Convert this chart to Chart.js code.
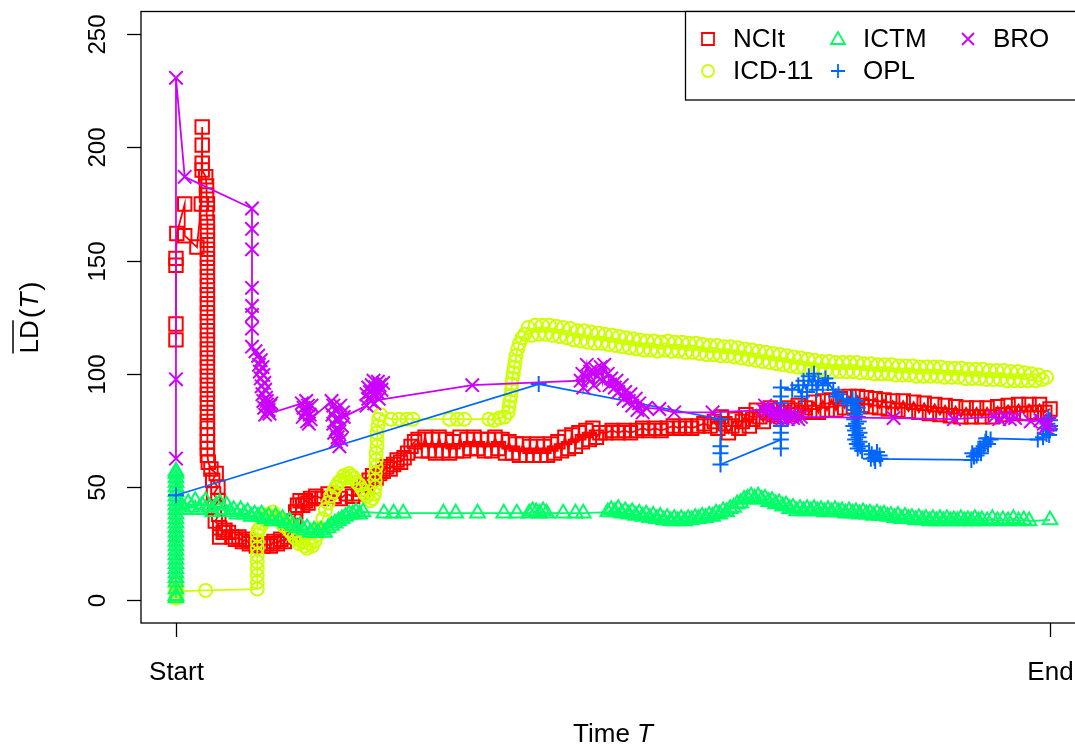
<!DOCTYPE html>
<html lang="en">
<head>
<meta charset="UTF-8">
<title>LD(T) over time</title>
<style>
  html, body { margin: 0; padding: 0; background: #fff; overflow: hidden; }
  #wrap { width: 1100px; height: 744px; }
</style>
</head>
<body>
<div id="wrap"><canvas id="ldChart" width="1100" height="744"></canvas></div>
<script src="https://cdn.jsdelivr.net/npm/chart.js"></script>
<script>
// series, in the order they are plotted
const seriesNames = ['NCIt', 'ICD-11', 'ICTM', 'OPL', 'BRO'];
const seriesColors = ['#FF0000', '#CCFF00', '#00FF66', '#0066FF', '#CC00FF'];
const xTickValues = [0, 100];
const xTickLabels = ['Start', 'End'];
const yTickValues = [0, 50, 100, 150, 200, 250];

// [time, LD] pairs (time: Start = 0, End = 100)
const ncitPoints = [
  [0,115],[0,122],[0,148],[0,151],[0.1,162],[1.0,175],[1.0,161],[2.4,156],[2.9,175],
  [3.0,209],[3.0,201],[3.0,193],[3.0,190],[3.4,187],[3.5,183],[3.5,179],[3.6,175],[3.5,171],[3.6,167],
  [3.6,163],[3.6,159],[3.6,155],[3.6,151],[3.6,147],[3.6,143],[3.6,139],[3.6,135],[3.6,131],[3.6,127],
  [3.6,123],[3.6,119],[3.6,115],[3.6,111],[3.6,107],[3.6,103],[3.6,99],[3.6,95],[3.6,91],[3.6,87],
  [3.6,83],[3.6,79],[3.6,76],[3.6,73],[3.6,70],[3.6,67],[3.6,64],[3.7,61],[4.0,58],[4.6,56],[4.2,53],
  [4.8,50],[4.3,47],[4.8,44],[4.4,41],[4.9,38],[4.5,35],[5.0,32],[5.4,30],[5.0,28],
  [5.6,31],[6.0,30],[6.4,28],[6.8,27],[7.2,28],[7.6,26],[8.0,27],[8.4,25],[8.8,26],[9.2,24],[9.6,25],
  [10.0,24],[10.4,25],[10.8,24],[11.2,26],[11.6,25],[12.0,27],[12.4,26],[12.8,28],[13.2,30],
  [13.5,35],[13.7,39],[13.9,42],[14.2,44],[14.5,42],[14.8,44],[15.1,43],[15.4,45],
  [16.0,46],[16.7,45],[17.4,47],[18.1,46],[18.8,45],[19.5,47],[20.2,46],[20.9,47],
  [21.3,49],[21.7,51],[22.1,53],[22.5,55],[22.9,54],[23.3,56],[23.7,57],[24.1,59],[24.5,58],[24.9,60],
  [25.3,62],[25.7,61],[26.1,63],[26.5,65],[26.9,68],[27.3,70],
  [27.7,71],[28.1,66],[28.5,72],[28.9,66],[29.3,71],[29.7,65],[30.1,72],[30.5,66],[30.9,71],[31.3,65],
  [31.7,70],[32.1,66],[32.5,72],[32.9,66],[33.3,71],[33.7,67],[34.1,72],[34.5,67],[34.9,71],[35.3,66],
  [35.7,71],[36.1,66],[36.5,72],[36.9,67],[37.3,71],[37.7,65],[38.1,70],[38.5,65],[38.9,69],[39.3,64],
  [39.7,69],[40.1,64],[40.5,68],[40.9,64],[41.3,69],[41.7,64],[42.1,68],[42.5,64],[42.9,69],[43.3,65],
  [43.7,70],[44.1,66],[44.5,72],[44.9,67],[45.3,73],[45.7,68],[46.1,74],[46.5,70],[46.9,75],[47.3,71],
  [47.7,76],[48.1,72],[48.5,74],
  [49.2,74],[49.9,75],[50.6,74],[51.3,75],[52.0,74],[52.7,75],[53.4,76],[54.1,75],[54.8,76],[55.5,75],
  [56.2,76],[56.9,77],[57.6,76],[58.3,77],[59.0,76],[59.7,77],[60.4,78],[61.1,77],
  [61.6,79],[62.0,76],[62.4,81],[62.8,78],[63.2,74],[63.6,77],[64.0,80],[64.4,76],[64.8,79],[65.2,82],
  [65.6,77],[66.0,80],[66.4,84],[66.8,81],[67.2,79],[67.6,83],[68.0,85],[68.4,82],[68.8,84],[69.2,81],
  [69.6,83],[70.0,85],[70.4,82],[70.8,84],[71.2,86],[71.6,83],[72.0,85],
  [72.5,83],[73.0,87.5],[73.5,83],[74.0,88],[74.5,84],[75.0,88.5],[75.5,84],[76.0,89],[76.5,85],[77.0,90],
  [77.5,85.5],[78.0,90],[78.5,86],[79.0,89.5],[79.5,85.5],[80.0,89],[80.5,85],[81.0,88.5],[81.5,84.5],
  [82.0,88],[82.6,84],[83.2,88],[83.8,83.5],[84.4,87.5],[85.0,83],[85.6,87],[86.2,82.5],[86.8,86.5],
  [87.4,82],[88.0,86],[88.6,81.5],[89.2,85.5],[89.8,81],[90.4,85],[91.0,81],[91.6,85],[92.2,81],
  [92.8,85],[93.4,81],[94.0,85.5],[94.6,82],[95.2,86],[95.8,82.5],[96.4,86.5],[97.0,82.5],[97.6,86.5],
  [98.2,83],[98.8,86.5],[99.4,83],[100,84.5]
];

const icd11Points = [
  [0,1],[0,3],[0,5],[0,7],[0.1,2],[0.1,4],[3.4,4.4],
  [9.3,5],[9.3,8],[9.3,11],[9.3,14],[9.3,17],[9.3,20],[9.3,23],[9.3,26],[9.3,29],[9.4,31],
  [9.6,32],[9.9,34],[10.2,36],[10.5,38],[10.8,37],[11.1,39],[11.4,37],[11.7,36],[12.0,35],[12.3,33],
  [12.6,34],[12.9,31],[13.2,30],[13.5,28],[13.8,27],[14.1,25],[14.4,26],[14.7,24],[15.0,23],[15.3,25],
  [15.6,24],[15.9,26],[16.2,29],[16.5,32],[16.8,36],[17.1,40],[17.4,43],[17.7,46],[18.0,48],[18.3,50],
  [18.6,52],[18.9,53],[19.2,55],[19.5,54],[19.8,56],[20.1,55],[20.4,54],[20.7,52],[21.0,51],[21.3,49],
  [21.6,47],[21.9,46],[22.2,44],[22.5,45],[22.7,47],[22.8,50],[22.8,53],[22.8,56],[22.9,59],[22.9,62],
  [22.9,65],[23.0,68],[23.0,71],[23.0,74],[23.1,77],[23.2,80],[23.4,82],
  [24.6,80],[25.5,80],[26.4,80],[27.1,80],[31.3,80],[32.2,80],[33.0,80],[35.8,80],[36.4,79.5],[37.0,80.5],
  [37.6,81],[38.0,83],[38.1,85.5],[38.2,88],[38.3,90.5],[38.4,93],[38.4,95.5],[38.5,98],[38.6,100.5],
  [38.7,103],[38.8,105.5],[38.9,108],[39.1,111],[39.3,113.5],[39.6,116],[39.9,117.5],
  [40.3,120.5],[40.7,117],[41.1,121.5],[41.5,117.5],[41.9,121.5],[42.3,117.5],[42.7,121.5],[43.1,117],
  [43.5,121],[43.9,116.5],[44.3,120.5],[44.7,116],[45.1,120],[45.5,115],[45.9,119],[46.3,114.5],
  [46.7,119],[47.1,114],[47.5,118.5],[47.9,113.5],[48.3,118],[48.7,113.5],[49.1,117.5],[49.5,113],
  [49.9,117],[50.3,112.5],[50.7,116.5],[51.1,112],[51.5,116],[51.9,111.5],[52.3,115.5],[52.7,111],
  [53.1,115],[53.5,110.5],[53.9,114.5],[54.3,110.5],[54.7,114.5],[55.1,110],[55.5,114],[55.9,110.5],
  [56.3,114.5],[56.7,110],[57.1,114],[57.5,110],[57.9,114],[58.3,109.5],[58.7,113.5],[59.1,109.5],
  [59.5,113.5],[59.9,109],[60.3,113],[60.7,108.5],[61.1,112.5],[61.5,108.5],[61.9,112.5],[62.3,108],
  [62.7,112],[63.1,108],[63.5,112],[63.9,107.5],[64.3,111.5],[64.7,107],[65.1,111],[65.5,106.5],
  [65.9,110.5],[66.3,106],[66.7,110],[67.1,105.5],[67.5,109.5],[67.9,105],[68.3,109],[68.7,104.5],
  [69.1,108.5],[69.5,104],[69.9,108],[70.3,103.5],[70.7,107.5],[71.1,103],[71.5,107],[71.9,102.5],
  [72.3,106.5],[72.7,102],[73.1,106],[73.5,101.5],[73.9,105.5],[74.3,101.5],[74.7,105.5],[75.1,101],
  [75.5,105],[75.9,101],[76.3,105],[76.7,101],[77.1,105],[77.5,101],[77.9,105],[78.3,100.5],[78.7,104.5],
  [79.1,100.5],[79.5,104.5],[79.9,100],[80.3,104],[80.7,100],[81.1,104],[81.5,100],[81.9,104],
  [82.3,99.5],[82.7,103.5],[83.1,99.5],[83.5,103.5],[83.9,99.5],[84.3,103.5],[84.7,99],[85.1,103],
  [85.5,99],[85.9,103],[86.3,99],[86.7,103],[87.1,99],[87.5,103],[87.9,98.5],[88.3,102.5],[88.7,98.5],
  [89.1,102.5],[89.5,98.5],[89.9,102.5],[90.3,98],[90.7,102],[91.1,98],[91.5,102],[91.9,98],[92.3,102],
  [92.7,97.5],[93.1,101.5],[93.5,97.5],[93.9,101.5],[94.3,97.5],[94.7,101.5],[95.1,97],[95.5,101],
  [95.9,97],[96.3,101],[96.7,97],[97.1,100.5],[97.5,97],[97.9,100],[98.3,97],[98.7,99.5],[99.1,97.5],
  [99.6,98.5]
];

const ictmPoints = [
  [0,1],[0,2],[0,5],[0,8],[0,10],[0,12],[0,14],[0,16],[0,18],[0,20],[0,22],[0,24],[0,26],[0,28],
  [0,30],[0,32],[0,34],[0,36],[0,38],[0,40],[0,42],[0,44],[0,46],[0,48],[0,50],[0,52],[0,54],[0,56],[0,57],
  [0.6,42],[1.0,40],[1.4,43],[1.8,41],[2.2,44],[2.6,40],[3.0,42],[3.4,44],[3.8,41],[4.2,39],[4.6,42],
  [5.0,43],[5.4,40],[5.8,42],[6.2,39],[6.6,40],[7.0,38],[7.4,40],[7.8,38],[8.2,39],[8.6,37],[9.0,38],
  [9.4,37],[9.8,38],[10.2,36],[10.6,37],[11.0,35],[11.4,37],[11.8,35],[12.2,36],[12.6,34],[13.0,35],
  [13.4,33],[13.8,32],[14.2,33],[14.6,31],[15.0,32],[15.4,30],[15.8,31],[16.2,30],[16.6,31],[17.0,30],
  [17.4,32],[17.8,33],[18.2,34],[18.6,35],[19.0,36],[19.4,37],[19.8,38],[20.2,38],[20.6,39],[21.0,38],
  [21.4,39],
  [23.8,38.5],[24.9,38.5],[26.0,38.5],[30.6,38.5],[32.0,38.5],[34.5,38.5],[37.5,38.5],[39.0,38.5],
  [40.4,38.5],[40.8,39.5],[41.2,39],[41.6,38.5],[42.0,39.5],[42.4,38.5],[44.3,38.5],[45.7,38.5],[46.6,38.5],
  [49.4,39],[49.8,40],[50.2,39],[50.6,40.5],[51.0,38.5],[51.4,39.5],[51.8,38],[52.2,39],[52.6,37.5],
  [53.0,38.5],[53.4,37],[53.8,38],[54.2,36.5],[54.6,37.5],[55.0,36],[55.4,37],[55.8,35.5],[56.2,36.5],
  [56.6,35],[57.0,36],[57.4,35],[57.8,36],[58.2,35],[58.6,36],[59.0,35.5],[59.4,36.5],[59.8,36],
  [60.2,37],[60.6,36.5],[61.0,37.5],[61.4,37],[61.8,38.5],[62.2,38],[62.6,39.5],[63.0,39],[63.4,40.5],
  [63.8,41],[64.2,42.5],[64.6,43],[65.0,44.5],[65.4,45],[65.8,46],[66.2,45],[66.6,46],[67.0,44.5],
  [67.4,45],[67.8,43.5],[68.2,44],[68.6,42.5],[69.0,43],[69.4,41.5],[69.8,42],[70.2,40.5],[70.6,41],
  [71.0,39.5],[71.4,40.5],[71.8,39.5],[72.2,40.5],[72.6,39.5],[73.0,40.5],[73.4,39.5],[73.8,40],
  [74.2,39],[74.6,40],[75.0,39],[75.4,40],[75.8,39],[76.2,39.5],[76.6,38.5],[77.0,39.5],[77.4,38.5],
  [77.8,39],[78.2,38],[78.6,39],[79.0,38],[79.4,38.5],[79.8,37.5],[80.2,38.5],[80.6,37.5],[81.0,38],
  [81.4,37],[81.8,37.5],[82.2,36.5],[82.6,37.5],[83.0,36],[83.4,37],[83.8,36],[84.2,36.5],[84.6,35.5],
  [85.0,36.5],[85.4,35.5],[85.8,36],[86.2,35],[86.6,36],[87.0,35],[87.4,36],[87.8,35],[88.2,36],
  [88.6,35],[89.0,35.5],[89.4,35],[89.8,36],[90.2,35],[90.6,35.5],[91.0,35],[91.4,36],[91.8,35],
  [92.2,35.5],[92.8,35],[93.4,36],[94.0,35],[94.6,35.5],[95.2,35],[95.8,36],[96.4,35],[97.0,35.5],
  [97.6,35],[100,35.5]
];

const oplPoints = [
  [0,46.4],[41.5,95.5],[62.3,80],[62.3,68],[62.3,65],[62.3,60],[69.2,71],[69.2,67],[69.2,74],[69.2,77],
  [69.2,80],[69.2,83],[69.2,87],[69.2,90],[69.2,94],[70.5,93],[71.2,95],[71.6,90],[71.8,97],[72.2,92],
  [72.4,99],[72.8,95],[73.0,100],[73.3,93],[73.5,97],[74.0,95],[74.3,98],[74.6,96],[75.2,93],[75.5,90],
  [75.8,91],[76.3,89],[76.8,87],[77.4,89],[77.8,88],[77.5,86],[78.0,85],[77.6,84],[78.1,83],[77.7,82],
  [78.0,81],[77.6,80],[78.1,79],[77.8,78],[77.5,77],[78.0,76],[77.7,75],[78.2,74],[77.8,73],[78.1,72],
  [77.7,71],[78.2,70],[77.9,69],[78.3,68],[78.0,67],[78.5,66],
  [79.3,66],[79.6,64.5],[79.9,63],[80.2,65.5],[80.5,64],[80.0,61.5],[80.6,62.5],[79.5,62.5],
  [91.0,62],[91.3,63.5],[91.1,65],[91.6,64],[91.8,66],[92.1,65],[92.0,67],[92.4,68],[92.6,70],[92.9,69],
  [93.2,71],[92.7,71.5],
  [98.6,71],[99.2,72],[99.6,73.5],[99.9,75],[99.5,76],[100,77],[99.7,78],[100,79.5],[99.8,80.5],
  [100,75.5],[99.9,73]
];

const broPoints = [
  [0,62.6],[0,97.6],[0,230.7],[1.0,187],[8.7,173],[8.7,164],[8.7,155],[8.7,138],[8.7,130],[8.7,126],
  [8.7,120],[8.7,112],[9.1,110],[9.4,108],[9.7,106],[9.5,104],[9.9,103],[9.6,101],[10.0,99.5],[9.7,98],
  [10.1,96],[9.8,94.5],[10.2,93],[9.9,91],[10.3,89.5],[10.0,88],[10.4,86.5],[10.1,85],[10.5,83.5],
  [10.2,82],[10.6,84],[10.8,86],[10.4,88],[10.9,87],[10.7,82.5],
  [14.4,87],[14.6,85],[14.8,83],[14.5,81],[15.0,79],[14.9,84],[15.1,86],[15.3,82],[15.5,86],[14.9,88],
  [15.2,78],[15.4,80],
  [17.8,88],[18.0,86],[18.2,84],[17.9,82],[18.3,80],[18.0,78],[18.4,76],[18.1,74],[18.5,72],[18.3,70],
  [18.7,68],[18.9,71],[18.6,74],[19.0,77],[18.7,80],[19.1,83],[18.8,86],[19.2,81],
  [21.8,86],[22.0,89],[21.8,91],[22.2,92],[22.0,94],[22.4,95],[22.6,97],[22.8,94],[22.5,91],[23.0,92],
  [23.2,89],[22.7,87],[23.3,95],[23.5,93],[23.7,96],[23.1,96.5],[22.3,88],
  [33.9,95],
  [46.3,97],[46.5,100],[46.6,94],[47.0,104],[47.2,98],[47.4,101],[47.8,95],[48.0,102],[48.2,99],
  [48.6,103],[48.8,97],[49.0,104],[49.4,100],[49.6,95],[49.8,98],[50.2,94],[50.4,97],[50.6,92],
  [51.0,95],[51.2,89],[51.4,92],[51.8,88],[52.0,91],[52.2,86],[52.6,89],[52.8,84],[53.0,87],[53.4,83],
  [53.8,85],[55.3,84.5],[57.0,83],[61.4,83],
  [67.2,84],[67.4,86],[67.6,83],[67.9,85],[68.2,82],[68.5,84],[68.8,81],[69.1,83],[69.4,80.5],[69.7,82.5],
  [70.0,80],[70.3,82],[70.6,80.5],[70.9,81.5],[71.2,80],[71.5,81],
  [82.1,80.5],[89.0,80],[93.6,81],[94.2,80],[94.8,81],[95.4,80],[96.0,80.5],[97.8,79],[98.9,79.5],
  [99.3,78],[99.7,77.5],[100,78.5],[99.5,76.5]
];

const seriesPoints = [ncitPoints, icd11Points, ictmPoints, oplPoints, broPoints];
const seriesStyles = ['rect', 'circle', 'triangle', 'cross', 'crossRot'];
const seriesRadius = [9.5, 6.5, 8.5, 8, 9.5];

const FONT = '"Liberation Sans", Arial, sans-serif';
const FS = 26;
const FS_Y = 24;

function drawMarker(ctx, style, x, y, color) {
  ctx.save();
  ctx.strokeStyle = color;
  ctx.lineWidth = 1.8;
  ctx.beginPath();
  if (style === 'rect') {
    ctx.rect(x - 6, y - 6, 12, 12);
  } else if (style === 'circle') {
    ctx.arc(x, y, 6, 0, Math.PI * 2);
  } else if (style === 'triangle') {
    ctx.moveTo(x, y - 7); ctx.lineTo(x + 7, y + 5); ctx.lineTo(x - 7, y + 5); ctx.closePath();
  } else if (style === 'cross') {
    ctx.moveTo(x - 7, y); ctx.lineTo(x + 7, y); ctx.moveTo(x, y - 7); ctx.lineTo(x, y + 7);
  } else {
    ctx.moveTo(x - 6, y - 6); ctx.lineTo(x + 6, y + 6); ctx.moveTo(x + 6, y - 6); ctx.lineTo(x - 6, y + 6);
  }
  ctx.stroke();
  ctx.restore();
}

// R-style box, ticks, labels and legend
const baseGraphics = {
  id: 'baseGraphics',
  afterDatasetsDraw(chart) {
    const { ctx, chartArea: a, scales: { x, y } } = chart;
    ctx.save();
    ctx.strokeStyle = '#000';
    ctx.fillStyle = '#000';
    ctx.lineWidth = 1.3;
    ctx.strokeRect(a.left, a.top, a.right - a.left, a.bottom - a.top);

    ctx.textAlign = 'center';
    ctx.textBaseline = 'alphabetic';

    ctx.font = FS_Y + 'px ' + FONT;
    yTickValues.forEach(v => {
      const py = Math.round(y.getPixelForValue(v)) + 0.5;
      ctx.beginPath(); ctx.moveTo(a.left - 14, py); ctx.lineTo(a.left, py); ctx.stroke();
      ctx.save();
      ctx.translate(105, py);
      ctx.rotate(-Math.PI / 2);
      ctx.fillText(String(v), 0, 0);
      ctx.restore();
    });

    ctx.font = FS + 'px ' + FONT;
    xTickValues.forEach((v, i) => {
      const px = Math.round(x.getPixelForValue(v)) + 0.5;
      ctx.beginPath(); ctx.moveTo(px, a.bottom); ctx.lineTo(px, a.bottom + 14); ctx.stroke();
      ctx.fillText(xTickLabels[i], px, 680);
    });

    // x title: Time T
    const cx = (a.left + a.right) / 2;
    ctx.font = FS + 'px ' + FONT;
    const w1 = ctx.measureText('Time ').width;
    ctx.font = 'italic ' + FS + 'px ' + FONT;
    const w2 = ctx.measureText('T').width;
    const sx = cx - (w1 + w2) / 2;
    ctx.textAlign = 'left';
    ctx.font = FS + 'px ' + FONT;
    ctx.fillText('Time ', sx, 742);
    ctx.font = 'italic ' + FS + 'px ' + FONT;
    ctx.fillText('T', sx + w1, 742);

    // y title: overline LD (T)
    ctx.save();
    ctx.translate(38, (a.top + a.bottom) / 2);
    ctx.rotate(-Math.PI / 2);
    ctx.font = FS + 'px ' + FONT;
    const wLD = ctx.measureText('LD').width;
    const wO = ctx.measureText('(').width;
    const wC = ctx.measureText(')').width;
    ctx.font = 'italic ' + FS + 'px ' + FONT;
    const wT = ctx.measureText('T').width;
    const tot = wLD + wO + wT + wC + 6;
    let tx = -tot / 2;
    ctx.font = FS + 'px ' + FONT;
    ctx.fillText('LD', tx, 0);
    ctx.lineWidth = 1.5;
    ctx.beginPath(); ctx.moveTo(tx, -25); ctx.lineTo(tx + wLD, -25); ctx.stroke();
    tx += wLD + 2;
    ctx.font = (FS + 2) + 'px ' + FONT;
    ctx.fillText('(', tx, 1);
    tx += wO + 1;
    ctx.font = 'italic ' + FS + 'px ' + FONT;
    ctx.fillText('T', tx, 0);
    tx += wT + 2;
    ctx.font = (FS + 2) + 'px ' + FONT;
    ctx.fillText(')', tx, 1);
    ctx.restore();

    // legend box
    const lx = 685, ly = a.top, lb = 100;
    ctx.fillStyle = '#fff';
    ctx.fillRect(lx, ly, a.right - lx, lb - ly);
    ctx.strokeStyle = '#000';
    ctx.lineWidth = 1.3;
    ctx.strokeRect(lx + 0.5, ly, a.right - lx, lb - ly);
    const cols = [708, 838, 968];
    const rows = [39, 71];
    ctx.fillStyle = '#000';
    ctx.font = FS + 'px ' + FONT;
    ctx.textAlign = 'left';
    ctx.textBaseline = 'middle';
    seriesNames.forEach((name, i) => {
      const c = Math.floor(i / 2), r = i % 2;
      drawMarker(ctx, seriesStyles[i], cols[c], rows[r], seriesColors[i]);
      ctx.fillText(name, cols[c] + 25, rows[r] + 1);
    });
    ctx.restore();
  }
};

const datasets = seriesNames.map((name, i) => ({
  label: name,
  data: seriesPoints[i].map(p => ({ x: p[0], y: p[1] })),
  showLine: true,
  borderColor: seriesColors[i],
  backgroundColor: 'rgba(0,0,0,0)',
  borderWidth: 1.8,
  tension: 0,
  pointStyle: seriesStyles[i],
  pointRadius: seriesRadius[i],
  pointBorderWidth: 2,
  pointBorderColor: seriesColors[i],
  pointBackgroundColor: 'rgba(0,0,0,0)',
  order: seriesNames.length - i
}));

new Chart(document.getElementById('ldChart'), {
  type: 'scatter',
  data: { datasets },
  options: {
    responsive: false,
    animation: false,
    devicePixelRatio: 1,
    events: [],
    layout: { padding: { left: 141, top: 6, right: 15, bottom: 121 } },
    scales: {
      x: { type: 'linear', min: -4, max: 104, display: false },
      y: { type: 'linear', min: -10, max: 260, display: false }
    },
    plugins: { legend: { display: false }, tooltip: { enabled: false } }
  },
  plugins: [baseGraphics]
});
</script>
</body>
</html>
